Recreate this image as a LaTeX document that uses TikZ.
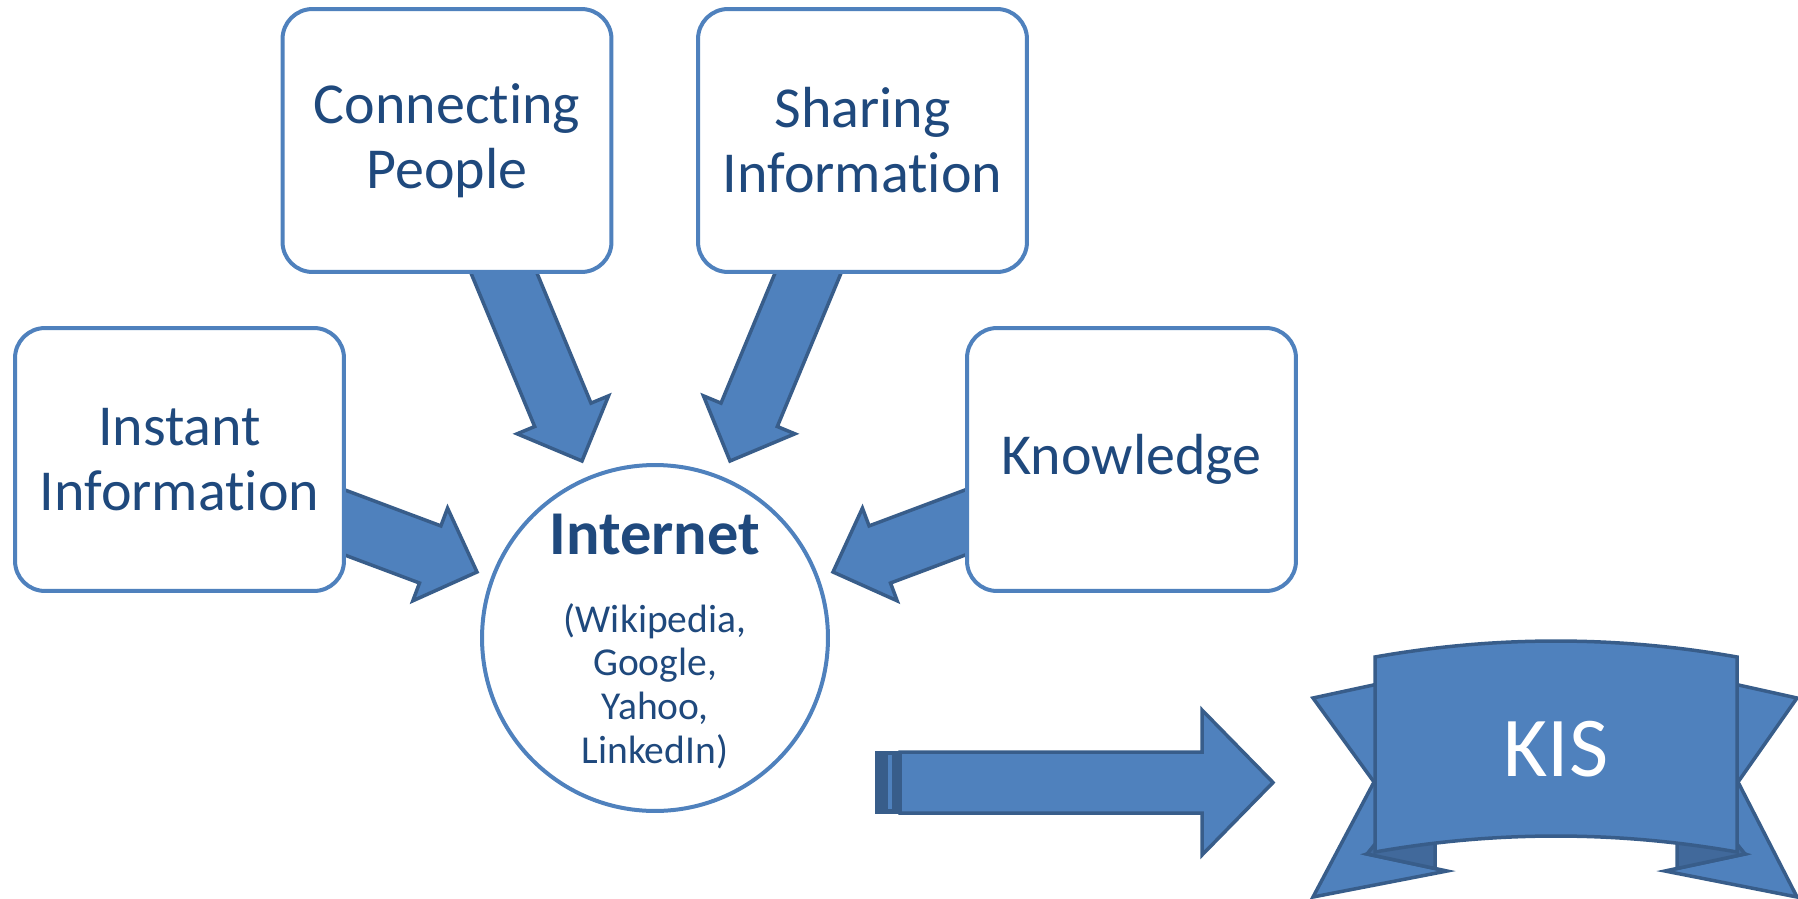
\documentclass[tikz,border=0pt]{standalone}
\usepackage{fontspec}
\setmainfont{Carlito}[Ligatures=NoCommon]
\usetikzlibrary{calc}
\definecolor{boxblue}{HTML}{4F81BD}
\definecolor{textblue}{HTML}{1F497D}
\definecolor{arrowblue}{HTML}{4F81BD}
\definecolor{arrowdark}{HTML}{385D8A}
\definecolor{folddark}{HTML}{41699B}
\tikzset{
  box/.style={draw=boxblue, line width=0.08cm, fill=white, rounded corners=0.6cm,
    minimum width=6.58cm, minimum height=5.26cm, align=center, text=textblue,
    font=\fontsize{33}{37}\selectfont, inner sep=0pt},
  hubcircle/.style={draw=boxblue, line width=0.08cm, fill=white, circle,
    minimum size=6.92cm, inner sep=0pt},
  blk/.style={fill=arrowblue, draw=arrowdark, line width=0.07cm, line join=miter},
  ribbon/.style={fill=arrowblue, draw=arrowdark, line width=0.07cm, line join=miter},
  fold/.style={fill=folddark, draw=arrowdark, line width=0.07cm, line join=miter},
}
\newcommand\blkarrow[2]{%
  \coordinate (bh) at ($(#2)!1cm!(#1)$);
  \filldraw[blk] ($(#1)!0.61cm!90:(#2)$) -- ($(bh)!0.61cm!90:(#2)$)
    -- ($(bh)!0.99cm!90:(#2)$) -- (#2) -- ($(bh)!0.99cm!-90:(#2)$)
    -- ($(bh)!0.61cm!-90:(#2)$) -- ($(#1)!0.61cm!-90:(#2)$) -- cycle;}
\begin{document}
\begin{tikzpicture}[x=0.02cm, y=-0.02cm]
\useasboundingbox (0,0) rectangle (1798,899);

% hub circle
\node[hubcircle] (internet) at (655,638) {};
\node[anchor=base, text=textblue, font=\fontsize{35.5}{40}\selectfont\bfseries] (internettitle) at (655,554) {Internet};
\node[anchor=base, text=textblue, align=center, font=\fontsize{22.5}{24.8}\selectfont, inner sep=0pt] (internetsub) at (655,763) {(Wikipedia,\\Google,\\Yahoo,\\LinkedIn)};

% block arrows (tails hidden under boxes)
\coordinate (instanttail) at (315,511.3);
\coordinate (instanttip) at (477,572);
\coordinate (knowtail) at (995,511.3);
\coordinate (knowtip) at (833,572);
\coordinate (conntail) at (494.4,250);
\coordinate (conntip) at (582,461);
\coordinate (sharetail) at (817.6,250);
\coordinate (sharetip) at (730,461);
\blkarrow{instanttail}{instanttip}
\blkarrow{knowtail}{knowtip}
\blkarrow{conntail}{conntip}
\blkarrow{sharetail}{sharetip}

% boxes
\node[box] (instant) at (179.5,459.5) {Instant\\Information};
\node[box] (connecting) at (447,140.5) {Connecting\\People};
\node[box] (sharing) at (862.5,140.5) {Sharing\\Information};
\node[box] (knowledge) at (1131.5,459.5) {Knowledge};

% striped arrow to KIS
\fill[arrowdark] (875,751) rectangle (900,814);
\fill[arrowblue] (888,755) rectangle (892,809);
\filldraw[blk] (900,752) -- (1202,752) -- (1202,710) -- (1273,782.5) -- (1202,855) -- (1202,813) -- (900,813) -- cycle;

% KIS ribbon
\filldraw[ribbon] (1378,684) -- (1313,698) -- (1374,782) -- (1313,897) -- (1447,871) -- (1367,854) -- (1380,850) -- cycle;
\filldraw[ribbon] (1734,684) -- (1797,698) -- (1738,782) -- (1797,897) -- (1665,871) -- (1745,854) -- (1732,850) -- cycle;
\filldraw[fold] (1367,854) -- (1435,868.5) -- (1435,838) -- (1380,838) -- cycle;
\filldraw[fold] (1745,854) -- (1677,868.5) -- (1677,838) -- (1732,838) -- cycle;
\filldraw[ribbon] (1375,657) .. controls (1495,635.7) and (1617,635.7) .. (1737,657)
  -- (1737,852) .. controls (1617,830.7) and (1495,830.7) .. (1375,852) -- cycle;
\node[text=white, font=\fontsize{48.5}{55}\selectfont] (kis) at (1556,749) {KIS};
\end{tikzpicture}
\end{document}
